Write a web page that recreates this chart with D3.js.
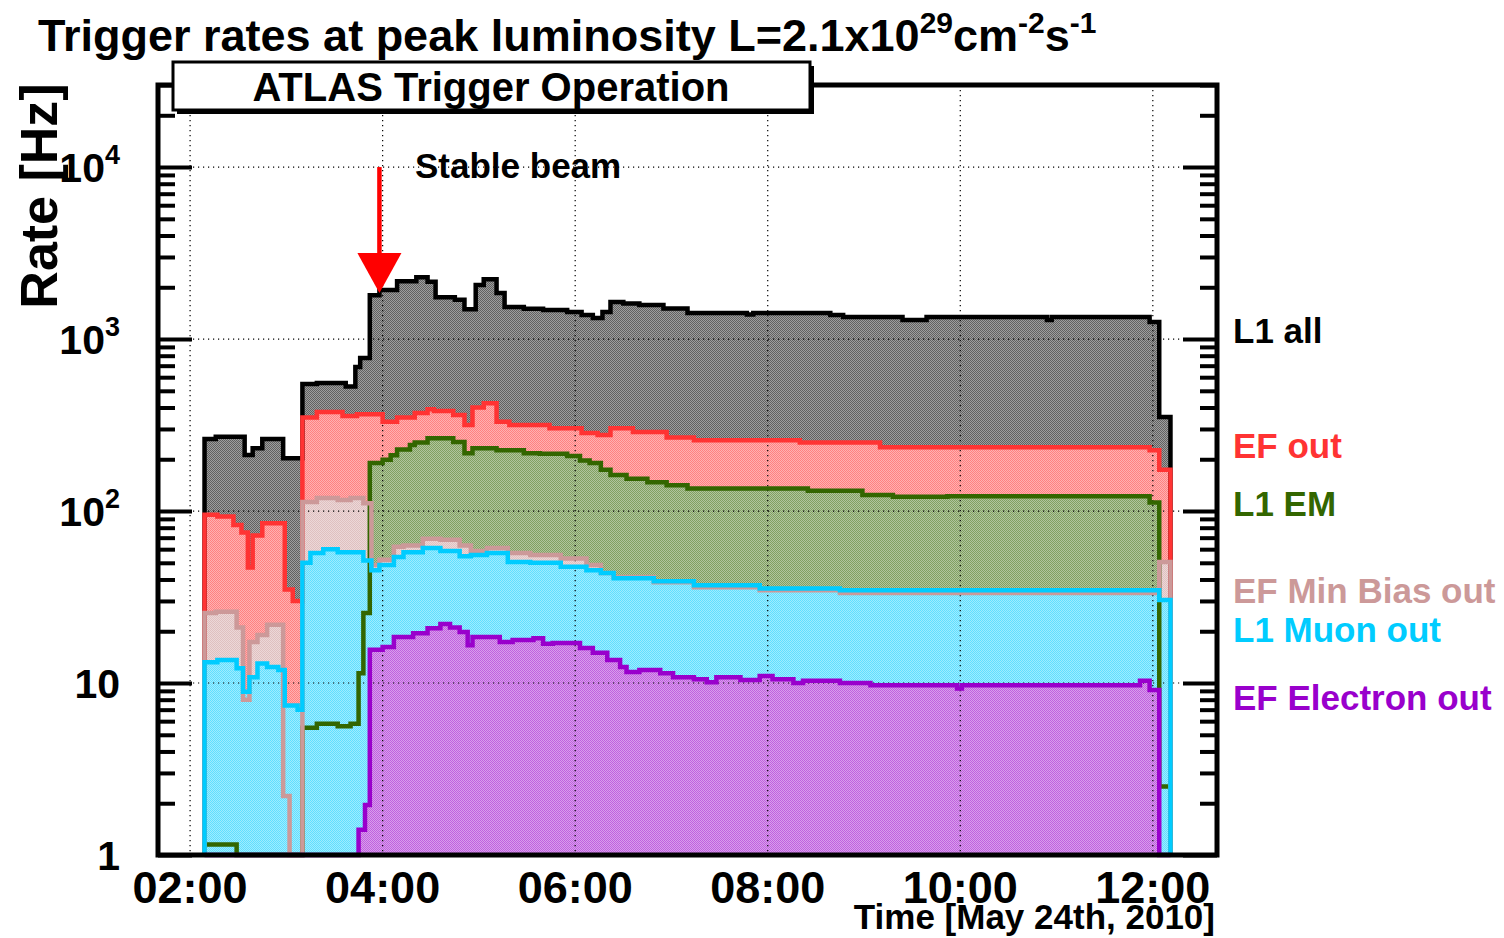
<!DOCTYPE html>
<html>
<head>
<meta charset="utf-8">
<script src="https://cdn.jsdelivr.net/npm/d3@7"></script>
<style>
  body { margin: 0; background: #fff; }
  svg { display: block; font-family: "Liberation Sans", Arial, sans-serif; font-weight: bold; }
</style>
</head>
<body>
<svg id="chart" width="1504" height="938"></svg>
<script>
// ---- data (start time of each step, rate in Hz) ----
const endTime = "12:11";

const l1AllTimes = ["02:09","02:16","02:34","02:39","02:45","02:58","03:10","03:19","03:37","03:43","03:46","03:52","03:58","04:09","04:21","04:28","04:33","04:45","04:51","04:58","05:03","05:11","05:16","05:28","05:40","05:55","06:04","06:11","06:17","06:22","06:30","06:40","06:55","07:10","07:47","07:51","08:39","08:47","09:24","09:39","10:54","10:57","11:58","12:04"];
const l1AllRates = [262,270,212,232,262,203,548,555,530,688,776,1800,1930,2170,2290,2150,1750,1690,1490,2060,2230,1850,1535,1500,1475,1435,1380,1325,1435,1640,1610,1577,1504,1416,1390,1416,1380,1345,1290,1345,1290,1345,1256,352];

const efOutTimes = ["02:09","02:17","02:27","02:32","02:36","02:39","02:45","02:59","03:04","03:10","03:19","03:35","03:44","04:00","04:09","04:20","04:28","04:32","04:44","04:51","04:56","05:03","05:11","05:19","05:44","06:04","06:14","06:22","06:36","06:57","07:14","08:20","09:10","11:58","12:04"];
const efOutRates = [95,93,83,75,47,72,85,35,30,350,376,357,365,330,350,372,390,382,362,316,400,424,330,316,303,284,277,303,288,268,258,250,235,226,174];

const l1EmTimes = ["02:09","02:29","03:10","03:19","03:32","03:40","03:45","03:48","03:52","04:00","04:05","04:09","04:17","04:20","04:28","04:44","04:51","04:56","05:11","05:28","05:38","05:55","06:03","06:09","06:16","06:22","06:32","06:45","06:57","07:10","08:25","08:59","09:18","09:52","11:58","12:04"];
const l1EmRates = [1.15,0,5.5,5.8,5.6,5.8,11.4,25.5,190,199,211,228,242,250,265,252,217,232,226,217,215,209,197,190,174,162,154,147,141,135,131,124,121,122,112,2.5];

const efMinBiasTimes = ["02:09","02:16","02:29","02:33","02:37","02:42","02:48","02:58","03:02","03:10","03:19","03:32","03:40","03:48","03:53","03:58","04:07","04:13","04:25","04:36","04:48","04:55","05:05","05:18","05:32","05:51","06:07","06:16","06:24","06:49","07:14","07:55","08:45","12:04"];
const efMinBiasRates = [25.5,26,21,8,17.3,19,21.8,2.2,0,113,119,116,119,111,48.5,52,62,63,69,68,63,58.6,61,57,55.5,53,48.5,43.6,41.3,38.6,36,34.6,33.4,50.6];

const l1MuonTimes = ["02:09","02:17","02:29","02:33","02:37","02:42","02:48","02:55","02:59","03:07","03:10","03:15","03:23","03:32","03:48","03:53","03:58","04:07","04:13","04:25","04:36","04:48","04:55","05:05","05:18","05:32","05:51","06:07","06:16","06:24","06:49","07:14","07:55","08:45","12:04"];
const l1MuonRates = [13.2,13.6,12.2,8.9,10.8,13,12.4,11.9,7.4,7.0,50,57,60,57.6,51.6,45.3,48.5,54,57.6,61,58.6,54.6,55.5,57,50.6,50,47.4,45.3,43.6,40.7,39,37,35.5,34.6,30.4];

const efElectronTimes = ["02:09","03:45","03:49","03:52","04:00","04:07","04:19","04:28","04:36","04:42","04:48","04:53","04:56","05:13","05:21","05:34","05:40","05:46","06:03","06:11","06:20","06:28","06:32","06:40","06:53","07:01","07:14","07:22","07:28","07:43","07:55","08:03","08:16","08:22","08:45","09:04","09:58","10:01","11:52","11:58","12:04"];
const efElectronRates = [0,1.4,1.95,15.6,16.2,18.5,19.5,20.8,22,21,19.8,16.6,18.5,17.3,17.8,18.2,16.9,17.1,16,15,13.6,12.4,11.6,11.9,11.4,10.8,10.5,10.1,10.8,10.4,11,10.5,10,10.3,10,9.7,9.3,9.7,10.3,9.1,0];

const seriesNames = ["L1 all", "EF out", "L1 EM", "EF Min Bias out", "L1 Muon out", "EF Electron out"];
const seriesColors = ["#000000", "#ff3333", "#336600", "#cc9999", "#00ccff", "#9900cc"];

const xTickLabels = ["02:00", "04:00", "06:00", "08:00", "10:00", "12:00"];
const yTickValues = [1, 10, 100, 1000, 10000];
const yTickBase = ["1", "10", "10", "10", "10"];
const yTickExp = ["", "", "2", "3", "4"];

const stableBeamTime = "03:58";

// ---- setup ----
const svg = d3.select("#chart");
const parseTime = d3.timeParse("%H:%M");

const plotLeft = 158, plotRight = 1217, plotTop = 85, plotBottom = 855;

const x = d3.scaleTime()
    .domain([parseTime("01:40"), parseTime("12:40")])
    .range([plotLeft, plotRight]);

const y = d3.scaleLog()
    .domain([1, 3e4])
    .range([plotBottom, plotTop])
    .clamp(true);

const yv = v => y(Math.max(v, 0.5));

const series = [
    { times: l1AllTimes, rates: l1AllRates },
    { times: efOutTimes, rates: efOutRates },
    { times: l1EmTimes, rates: l1EmRates },
    { times: efMinBiasTimes, rates: efMinBiasRates },
    { times: l1MuonTimes, rates: l1MuonRates },
    { times: efElectronTimes, rates: efElectronRates }
].map((s, i) => {
    const pts = s.times.map((t, j) => ({ t: parseTime(t), v: s.rates[j] }));
    const end = parseTime(endTime);
    // close the histogram down to the axis at both ends
    const path = [{ t: pts[0].t, v: 0 }, ...pts, { t: end, v: pts[pts.length - 1].v }, { t: end, v: 0 }];
    return { name: seriesNames[i], color: seriesColors[i], path, key: "s" + i };
});

const line = d3.line()
    .x(d => x(d.t))
    .y(d => yv(d.v))
    .curve(d3.curveStepAfter);

// soft checkerboard tile (ROOT hatch 3001 look), pixel exact on a canvas
function checkerTile(color) {
    const mix = d3.interpolateRgb(color, "#fff");
    const c = document.createElement("canvas");
    c.width = 2;
    c.height = 2;
    const ctx = c.getContext("2d");
    ctx.fillStyle = mix(0.62);
    ctx.fillRect(0, 0, 2, 2);
    ctx.fillStyle = mix(0.38);
    ctx.fillRect(0, 0, 1, 1);
    ctx.fillRect(1, 1, 1, 1);
    return c.toDataURL();
}

const defs = svg.append("defs");
series.forEach(s => {
    const p = defs.append("pattern")
        .attr("id", "pat-" + s.key)
        .attr("patternUnits", "userSpaceOnUse")
        .attr("width", 2)
        .attr("height", 2);
    p.append("image")
        .attr("href", checkerTile(s.color))
        .attr("width", 2)
        .attr("height", 2)
        .style("image-rendering", "pixelated");
});

// fills: mixed tint underneath, checker on top
series.forEach(s => {
    const d = line(s.path) + "Z";
    svg.append("path")
        .attr("d", d)
        .attr("fill", d3.interpolateRgb(s.color, "#fff")(0.5));
    svg.append("path")
        .attr("d", d)
        .attr("fill", `url(#pat-${s.key})`);
});

// grid
const grid = svg.append("g")
    .attr("stroke", "#000")
    .attr("stroke-width", 1.2)
    .attr("stroke-dasharray", "1.2,3.8");

grid.selectAll("line.v")
    .data(xTickLabels)
    .join("line")
    .attr("x1", d => x(parseTime(d)))
    .attr("x2", d => x(parseTime(d)))
    .attr("y1", plotTop)
    .attr("y2", plotBottom);

grid.selectAll("line.h")
    .data(yTickValues.slice(1))
    .join("line")
    .attr("x1", plotLeft)
    .attr("x2", plotRight)
    .attr("y1", d => y(d))
    .attr("y2", d => y(d));

// outlines
series.forEach(s => {
    svg.append("path")
        .attr("d", line(s.path))
        .attr("fill", "none")
        .attr("stroke", s.color)
        .attr("stroke-width", 4.5)
        .attr("stroke-linejoin", "miter");
});

// axis ticks (inward, both sides)
const minorTicks = [];
for (let k = 0; k <= 4; k++) {
    for (let m = 2; m <= 9; m++) {
        if (m * Math.pow(10, k) <= 3e4) minorTicks.push(m * Math.pow(10, k));
    }
}

function tickAxis(axisFn, xPos, values, size) {
    const g = svg.append("g")
        .attr("transform", `translate(${xPos},0)`)
        .call(axisFn(y).tickValues(values).tickSize(-size).tickFormat(""));
    g.select(".domain").remove();
    g.selectAll(".tick line").attr("stroke", "#000").attr("stroke-width", 4);
}
tickAxis(d3.axisLeft, plotLeft, yTickValues, 34);
tickAxis(d3.axisLeft, plotLeft, minorTicks, 17);
tickAxis(d3.axisRight, plotRight, yTickValues, 34);
tickAxis(d3.axisRight, plotRight, minorTicks, 17);

// frame
svg.append("rect")
    .attr("x", plotLeft)
    .attr("y", plotTop)
    .attr("width", plotRight - plotLeft)
    .attr("height", plotBottom - plotTop)
    .attr("fill", "none")
    .attr("stroke", "#000")
    .attr("stroke-width", 5);

// y tick labels
yTickValues.forEach((v, i) => {
    const t = svg.append("text")
        .attr("x", 120)
        .attr("y", y(v) + 15)
        .attr("text-anchor", "end")
        .attr("font-size", 41)
        .attr("fill", "#000");
    t.append("tspan").text(yTickBase[i]);
    if (yTickExp[i]) {
        t.append("tspan").attr("dy", -18).attr("font-size", 27).text(yTickExp[i]);
    }
});

// x tick labels
svg.selectAll("text.xlab")
    .data(xTickLabels)
    .join("text")
    .attr("x", d => x(parseTime(d)))
    .attr("y", 903)
    .attr("text-anchor", "middle")
    .attr("font-size", 45)
    .text(d => d);

svg.append("text")
    .attr("x", 1215)
    .attr("y", 929)
    .attr("text-anchor", "end")
    .attr("font-size", 35)
    .text("Time [May 24th, 2010]");

// y title
svg.append("text")
    .attr("transform", "translate(57,196) rotate(-90)")
    .attr("text-anchor", "middle")
    .attr("font-size", 52)
    .text("Rate [Hz]");

// main title
const title = svg.append("text")
    .attr("x", 38)
    .attr("y", 51)
    .attr("font-size", 45);
title.append("tspan").text("Trigger rates at peak luminosity L=2.1x10");
title.append("tspan").attr("dy", -18).attr("font-size", 30).text("29");
title.append("tspan").attr("dy", 18).text("cm");
title.append("tspan").attr("dy", -18).attr("font-size", 30).text("-2");
title.append("tspan").attr("dy", 18).text("s");
title.append("tspan").attr("dy", -18).attr("font-size", 30).text("-1");

// ATLAS box
svg.append("rect")
    .attr("x", 177).attr("y", 66).attr("width", 637).attr("height", 48)
    .attr("fill", "#000");
svg.append("rect")
    .attr("x", 173).attr("y", 62).attr("width", 637).attr("height", 48)
    .attr("fill", "#fff").attr("stroke", "#000").attr("stroke-width", 3);
svg.append("text")
    .attr("x", 491).attr("y", 101)
    .attr("text-anchor", "middle")
    .attr("font-size", 40)
    .text("ATLAS Trigger Operation");

// stable beam annotation
const sbx = x(parseTime(stableBeamTime));
const tipY = y(1850);
svg.append("line")
    .attr("x1", sbx).attr("x2", sbx)
    .attr("y1", y(1e4)).attr("y2", tipY - 38)
    .attr("stroke", "#ff0000").attr("stroke-width", 4.5);
svg.append("path")
    .attr("d", `M${sbx - 22},${tipY - 40}L${sbx + 22},${tipY - 40}L${sbx},${tipY}Z`)
    .attr("fill", "#ff0000");
svg.append("text")
    .attr("x", 415).attr("y", 178)
    .attr("font-size", 35)
    .text("Stable beam");

// series labels
const labelBaselines = [343, 458, 516, 603, 642, 710];
svg.selectAll("text.legend")
    .data(series)
    .join("text")
    .attr("x", 1233)
    .attr("y", (d, i) => labelBaselines[i])
    .attr("font-size", 35)
    .attr("fill", d => d.color)
    .text(d => d.name);
</script>
</body>
</html>
